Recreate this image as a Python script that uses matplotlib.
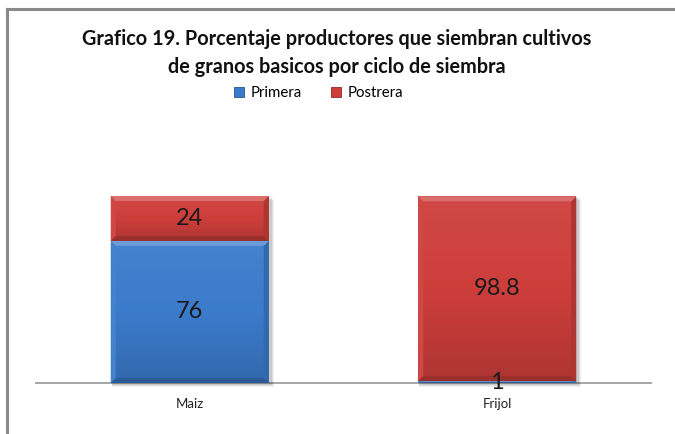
import numpy as np
import matplotlib.pyplot as plt
from matplotlib.colors import to_rgb, LinearSegmentedColormap
from matplotlib.patches import Polygon, Rectangle
from matplotlib.lines import Line2D

plt.rcParams['font.family'] = ['Lato', 'DejaVu Sans']

# datos del grafico
categorias = ['Maiz', 'Frijol']
series = ['Primera', 'Postrera']
primera = [76, 1]
postrera = [24, 98.8]
titulo = 'Grafico 19. Porcentaje productores que siembran cultivos\nde granos basicos por ciclo de siembra'

colores = ['#3b7bcb', '#cd3e3b']

W, H = 675, 434
fig = plt.figure(figsize=(W / 100, H / 100), dpi=100)

# marco del grafico (solo se ve izquierda y arriba)
fig.add_artist(Line2D([7 / W, 7 / W], [0, 1 - 8.5 / H], color='#8a8a8a', lw=2.2))
fig.add_artist(Line2D([7 / W, 1], [1 - 8.5 / H, 1 - 8.5 / H], color='#8a8a8a', lw=2.2))

fig.text(337 / W, 1 - 53 / H, titulo, ha='center', va='center', fontsize=14.3,
         fontweight='bold', linespacing=1.45, color='#111111')

# area de trazado
x_izq, x_der = 36, 651
y_base, y_top_barra = 383, 196
y_arriba = 120
ax = fig.add_axes([x_izq / W, (H - y_base) / H, (x_der - x_izq) / W, (y_base - y_arriba) / H])
ymax = 100 * (y_base - y_arriba) / (y_base - y_top_barra)
ax.set_xlim(-0.5, 1.5)
ax.set_ylim(0, ymax)
for s in ['top', 'right', 'left']:
    ax.spines[s].set_visible(False)
ax.spines['bottom'].set_color('#a6a6a6')
ax.spines['bottom'].set_linewidth(1.4)
ax.spines['bottom'].set_zorder(1)
ax.set_yticks([])
ax.tick_params(axis='x', length=0, pad=11, labelsize=9.5, labelcolor='#222222')

x = np.arange(len(categorias))
ancho = 158 / 307.5

# px por unidad
px_x = (x_der - x_izq) / 2.0
px_y = (y_base - y_arriba) / ymax


def mezcla(c, otro, t):
    c = np.array(to_rgb(c))
    return tuple(c * (1 - t) + np.array(otro) * t)


# sombra
totales = [a + b for a, b in zip(primera, postrera)]
for xi, tot in zip(x, totales):
    for k, a in [(4, 0.06), (3, 0.07), (2, 0.09)]:
        ax.add_patch(Rectangle((xi - ancho / 2 + 1 / px_x, -k / px_y), ancho + k / px_x, tot,
                               color='black', alpha=a, lw=0, zorder=1.5, clip_on=False))

barras1 = ax.bar(x, primera, ancho, color=colores[0], zorder=2, label=series[0])
barras2 = ax.bar(x, postrera, ancho, bottom=primera, color=colores[1], zorder=2, label=series[1])

for barras, col in [(barras1, colores[0]), (barras2, colores[1])]:
    cmap = LinearSegmentedColormap.from_list('g', [mezcla(col, (0, 0, 0), 0.15), col,
                                                    mezcla(col, (1, 1, 1), 0.05)])
    for p in barras:
        x0, y0 = p.get_x(), p.get_y()
        w, h = p.get_width(), p.get_height()
        x1, y1 = x0 + w, y0 + h
        grad = np.linspace(0, 1, 100).reshape(-1, 1)
        ax.imshow(grad, extent=[x0, x1, y0, y1], origin='lower', cmap=cmap,
                  aspect='auto', zorder=2.1)
        bx = 5 / px_x
        by = min(5 / px_y, h / 2)
        arriba = [(x0, y1), (x1, y1), (x1 - bx, y1 - by), (x0 + bx, y1 - by)]
        izq = [(x0, y0), (x0, y1), (x0 + bx, y1 - by), (x0 + bx, y0 + by)]
        der = [(x1, y0), (x1, y1), (x1 - bx, y1 - by), (x1 - bx, y0 + by)]
        abajo = [(x0, y0), (x1, y0), (x1 - bx, y0 + by), (x0 + bx, y0 + by)]
        ax.add_patch(Polygon(izq, color=mezcla(col, (1, 1, 1), 0.05), lw=0, zorder=2.2))
        ax.add_patch(Polygon(der, color=mezcla(col, (0, 0, 0), 0.15), lw=0, zorder=2.2))
        ax.add_patch(Polygon(abajo, color=mezcla(col, (0, 0, 0), 0.25), lw=0, zorder=2.3))
        ax.add_patch(Polygon(arriba, color=mezcla(col, (1, 1, 1), 0.25), lw=0, zorder=2.3))
        ax.text(x0 + w / 2, y0 + h / 2, f'{h:g}', ha='center', va='center',
                fontsize=17, color='#1a1a1a', zorder=5)

ax.set_xlim(-0.5, 1.5)
ax.set_ylim(0, ymax)
ax.set_xticks(x)
ax.set_xticklabels(categorias)

manejadores = [Line2D([], [], marker='s', ls='', markersize=7, markerfacecolor=c,
                      markeredgecolor=mezcla(c, (0, 0, 0), 0.3), markeredgewidth=0.6)
               for c in colores]
fig.legend(manejadores, series, loc='center', bbox_to_anchor=(318 / W, 1 - 93 / H),
           ncol=2, frameon=False, fontsize=10.8, handlelength=0.8, handletextpad=0.35,
           columnspacing=1.9, borderpad=0)

plt.savefig('out.png', dpi=100)
